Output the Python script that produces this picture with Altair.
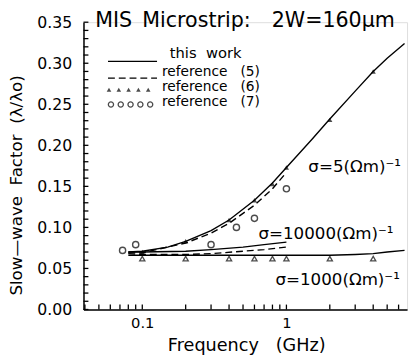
import altair as alt
import pandas as pd

# ---- data ----
f_solid5 = [0.08, 0.1, 0.15, 0.2, 0.3, 0.4, 0.6, 0.8, 1.0, 1.5, 2.0, 3.0, 4.0, 5.0, 6.6]
v_solid5 = [0.070, 0.071, 0.076, 0.083, 0.096, 0.109, 0.133, 0.154, 0.173, 0.207, 0.232, 0.266, 0.290, 0.306, 0.324]

f_dash5 = [0.08, 0.1, 0.2, 0.3, 0.4, 0.6, 0.8, 1.0]
v_dash5 = [0.069, 0.069, 0.081, 0.093, 0.105, 0.127, 0.147, 0.167]

f_solid10000 = [0.08, 0.1, 0.2, 0.3, 0.5, 0.7, 1.0]
v_solid10000 = [0.070, 0.070, 0.071, 0.073, 0.076, 0.079, 0.082]

f_dash10000 = [0.08, 0.1, 0.2, 0.3, 0.5, 0.7, 1.0]
v_dash10000 = [0.068, 0.067, 0.067, 0.068, 0.071, 0.073, 0.076]

f_solid1000 = [0.08, 0.1, 0.3, 1.0, 2.0, 3.0, 4.0, 5.0, 6.6]
v_solid1000 = [0.066, 0.066, 0.066, 0.066, 0.066, 0.067, 0.068, 0.070, 0.072]

f_tri5 = [0.1, 0.2, 0.4, 0.6, 0.8, 1.0, 2.0, 4.0]
v_tri5 = [0.070, 0.083, 0.109, 0.133, 0.153, 0.173, 0.231, 0.290]

f_tri1000 = [0.1, 0.2, 0.4, 0.6, 0.8, 1.0, 2.0, 4.0]
v_tri1000 = [0.062, 0.062, 0.062, 0.062, 0.062, 0.062, 0.062, 0.062]

f_circ = [0.073, 0.09, 0.3, 0.45, 0.6, 1.0]
v_circ = [0.072, 0.079, 0.079, 0.100, 0.111, 0.147]

legend_refs = ["(5)", "(6)", "(7)"]

x_labels = [0.1, 1]
y_labels = [0.0, 0.05, 0.10, 0.15, 0.20, 0.25, 0.30, 0.35]
x_minor = [0.04, 0.05, 0.06, 0.07, 0.08, 0.09, 0.1, 0.2, 0.3, 0.4, 0.5, 0.6, 0.7, 0.8, 0.9,
           1, 2, 3, 4, 5, 6]
y_minor = [round(i * 0.01, 2) for i in range(36)]

NB = "\u00a0"
W, H = 330, 293
FONT = "DejaVu Sans"
xs = alt.Scale(type="log", domain=[0.0391, 6.87])
ys = alt.Scale(domain=[0, 0.35])

XAX = alt.Axis(values=x_labels, format="~g", ticks=False, tickSize=0, grid=False,
               domainColor="black", domainWidth=1.5, labelFont=FONT, labelFontSize=15,
               labelColor="black", labelPadding=6, title=f"Frequency{NB}{NB}{NB}(GHz)",
               titleFont=FONT, titleFontSize=18, titleFontWeight="normal",
               titleColor="black", titleX=166, titleY=37, titleBaseline="middle",
               titleAnchor="middle", titleAlign="center")
YAX = alt.Axis(values=y_labels, format=".2f", ticks=False, tickSize=0, grid=False,
               domainColor="black", domainWidth=1.5, labelFont=FONT, labelFontSize=16,
               labelColor="black", labelPadding=12,
               title=f"Slow—wave{NB}{NB}Factor{NB}{NB}(λ/λo)",
               titleFont=FONT, titleFontSize=17, titleFontWeight="normal",
               titleColor="black", titleX=-68, titleY=166, titleAngle=-90,
               titleBaseline="middle", titleAlign="center", titleAnchor="middle")


def X(field):
    return alt.X(field, scale=xs, axis=XAX)


def Y(field):
    return alt.Y(field, scale=ys, axis=YAX)


def line_layer(fs, vs, dash=None):
    df = pd.DataFrame({"f": fs, "v": vs})
    kw = dict(color="black", strokeWidth=1.4)
    if dash:
        kw["strokeDash"] = dash
    return alt.Chart(df).mark_line(**kw).encode(x=X("f:Q"), y=Y("v:Q"))


layers = []
layers.append(line_layer(f_solid5, v_solid5))
layers.append(line_layer(f_dash5, v_dash5, dash=[7, 4]))
layers.append(line_layer(f_solid10000, v_solid10000))
layers.append(line_layer(f_dash10000, v_dash10000, dash=[7, 4]))
layers.append(line_layer(f_solid1000, v_solid1000))

tri5 = alt.Chart(pd.DataFrame({"f": f_tri5, "v": v_tri5})).mark_point(
    shape="triangle-up", filled=True, color="black", size=28
).encode(x=X("f:Q"), y=Y("v:Q"))
tri1000 = alt.Chart(pd.DataFrame({"f": f_tri1000, "v": v_tri1000})).mark_point(
    shape="triangle-up", filled=False, color="black", strokeWidth=1.3, size=28
).encode(x=X("f:Q"), y=Y("v:Q"))
circ = alt.Chart(pd.DataFrame({"f": f_circ, "v": v_circ})).mark_point(
    shape="circle", filled=False, color="black", strokeWidth=1.4, size=40
).encode(x=X("f:Q"), y=Y("v:Q"))
layers += [tri5, tri1000, circ]

# inward ticks
xt = alt.Chart(pd.DataFrame({"f": x_minor})).mark_rule(color="black", strokeWidth=1.3).encode(
    x=X("f:Q"), y=alt.value(H), y2=alt.value(H - 5))
yt = alt.Chart(pd.DataFrame({"v": y_minor})).mark_rule(color="black", strokeWidth=1.3).encode(
    y=Y("v:Q"), x=alt.value(0), x2=alt.value(5))
layers += [xt, yt]

one = pd.DataFrame({"a": [0]})


def txt(s, x, y, size=15, align="left"):
    return alt.Chart(one).mark_text(text=s, font=FONT, fontSize=size, color="black",
                                    align=align, baseline="middle").encode(
        x=alt.value(x), y=alt.value(y))


# title
layers.append(txt("MIS", 12, -1, 21))
layers.append(txt("Microstrip:", 60, -1, 21))
layers.append(txt("2W=160μm", 192, -1, 21))

# legend
layers.append(txt(f"this{NB}{NB}work", 88, 32))
for ry, ref in zip([51, 66, 81], legend_refs):
    layers.append(txt("reference", 80, ry, 14))
    layers.append(txt(ref, 160, ry, 14))
layers.append(alt.Chart(one).mark_rule(color="black", strokeWidth=1.4).encode(
    x=alt.value(25), x2=alt.value(75), y=alt.value(40)))
layers.append(alt.Chart(one).mark_rule(color="black", strokeWidth=1.4, strokeDash=[7, 4]).encode(
    x=alt.value(25), x2=alt.value(75), y=alt.value(57)))
for gx in [26, 36, 46, 56, 66]:
    layers.append(alt.Chart(one).mark_point(shape="triangle-up", filled=True, color="black",
                                            size=22).encode(x=alt.value(gx), y=alt.value(69)))
for gx in [28, 38, 48, 58, 68]:
    layers.append(alt.Chart(one).mark_point(shape="circle", filled=False, color="black",
                                            strokeWidth=1.3, size=28).encode(
        x=alt.value(gx), y=alt.value(84)))


# curve annotations (data space)
def ann(s, f, v, size=17):
    return alt.Chart(one).mark_text(text=s, font=FONT, fontSize=size, color="black",
                                    align="left", baseline="middle").encode(
        x=alt.XDatum(f, scale=xs, axis=XAX),
        y=alt.YDatum(v, scale=ys, axis=YAX))


layers.append(ann("σ=5(Ωm)⁻¹", 1.42, 0.174))
layers.append(ann("σ=10000(Ωm)⁻¹", 0.64, 0.092))
layers.append(ann("σ=1000(Ωm)⁻¹", 0.84, 0.036))

chart = alt.layer(*layers).properties(
    width=W, height=H,
    autosize=alt.AutoSizeParams(type="none"),
    padding={"left": 77, "top": 11, "right": 3, "bottom": 46},
).configure_view(stroke=None).configure(background="white")

chart.save("out.html", embed_options={"renderer": "svg", "actions": False})
